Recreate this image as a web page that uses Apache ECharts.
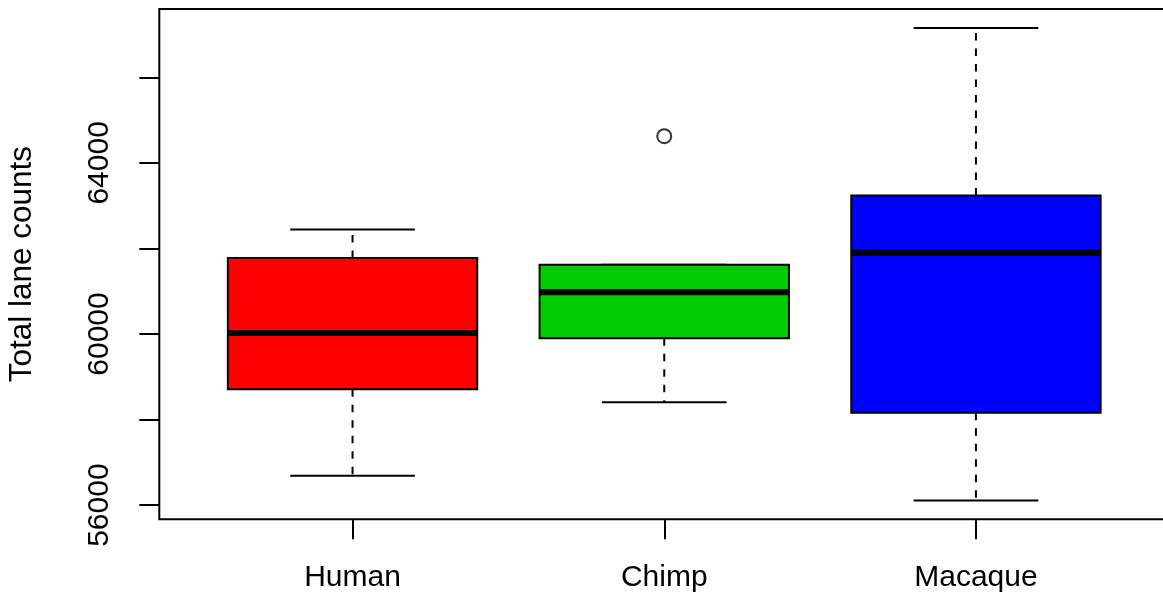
<!DOCTYPE html>
<html>
<head>
<meta charset="utf-8">
<title>Total lane counts</title>
<script src="https://cdn.jsdelivr.net/npm/echarts@6/dist/echarts.min.js"></script>
<style>
  html, body { margin: 0; padding: 0; background: #ffffff; }
  #chart { width: 1163px; height: 596px; }
</style>
</head>
<body>
<div id="chart"></div>
<script>
// Groups and five-number summaries of total lane counts
const categories = ['Human', 'Chimp', 'Macaque'];
const lowerWhisker = [56684, 58405, 56110];
const lowerQuartile = [58709, 59900, 58156];
const medians = [60023, 60974, 61901];
const upperQuartile = [61775, 61620, 63239];
const upperWhisker = [62445, 61620, 67155];
// [group index (1-based), value]
const outliers = [[2, 64624]];
const boxColors = ['#ff0000', '#00cd00', '#0000ff'];

const yTicks = [56000, 58000, 60000, 62000, 64000, 66000];
const yLabels = [56000, 60000, 64000];
const xTicks = [1, 2, 3];

// Axis range: data range padded by 4% each side
const allValues = lowerWhisker.concat(upperWhisker, outliers.map(o => o[1]));
const dMin = Math.min.apply(null, allValues);
const dMax = Math.max.apply(null, allValues);
const pad = (dMax - dMin) * 0.04;

const boxData = categories.map((c, i) => [
  i + 1, lowerWhisker[i], lowerQuartile[i], medians[i], upperQuartile[i], upperWhisker[i]
]);

const FONT = "'Liberation Sans', Arial, Helvetica, sans-serif";

function renderBox(params, api) {
  const x = api.value(0);
  const idx = params.dataIndex;
  const halfBox = api.size([0.4, 0])[0];
  const halfCap = api.size([0.2, 0])[0];
  const cx = api.coord([x, 0])[0];
  const yLow = api.coord([x, api.value(1)])[1];
  const yQ1 = api.coord([x, api.value(2)])[1];
  const yMed = api.coord([x, api.value(3)])[1];
  const yQ3 = api.coord([x, api.value(4)])[1];
  const yHigh = api.coord([x, api.value(5)])[1];
  const dash = { stroke: '#000', lineWidth: 2, lineDash: [7.5, 8] };
  const solid = { stroke: '#000', lineWidth: 2 };
  return {
    type: 'group',
    children: [
      { type: 'line', shape: { x1: cx, y1: yQ3, x2: cx, y2: yHigh }, style: dash },
      { type: 'line', shape: { x1: cx, y1: yQ1, x2: cx, y2: yLow }, style: dash },
      { type: 'line', shape: { x1: cx - halfCap, y1: yHigh, x2: cx + halfCap, y2: yHigh }, style: solid },
      { type: 'line', shape: { x1: cx - halfCap, y1: yLow, x2: cx + halfCap, y2: yLow }, style: solid },
      {
        type: 'rect',
        shape: { x: cx - halfBox, y: yQ3, width: halfBox * 2, height: yQ1 - yQ3 },
        style: { fill: boxColors[idx], stroke: '#000', lineWidth: 2 }
      },
      {
        type: 'line',
        shape: { x1: cx - halfBox, y1: yMed, x2: cx + halfBox, y2: yMed },
        style: { stroke: '#000', lineWidth: 6 }
      }
    ]
  };
}

const chart = echarts.init(document.getElementById('chart'), null, { renderer: 'canvas' });
chart.setOption({
  backgroundColor: '#ffffff',
  animation: false,
  grid: {
    left: 159.3, top: 9, width: 1009.9, bottom: 76.7,
    outerBoundsMode: 'none',
    containLabel: false,
    show: true, borderColor: '#000', borderWidth: 2, backgroundColor: 'transparent'
  },
  xAxis: {
    type: 'value',
    min: 0.38, max: 3.62,
    axisLine: { show: false },
    splitLine: { show: false },
    axisTick: { show: true, length: 20, lineStyle: { color: '#000', width: 2 }, customValues: xTicks },
    axisLabel: {
      customValues: xTicks,
      margin: 43,
      color: '#000', fontFamily: FONT, fontSize: 30,
      formatter: v => categories[Math.round(v) - 1] || ''
    }
  },
  yAxis: {
    type: 'value',
    min: dMin - pad, max: dMax + pad,
    name: 'Total lane counts',
    nameLocation: 'middle',
    nameRotate: 90,
    nameGap: 121,
    nameTextStyle: { color: '#000', fontFamily: FONT, fontSize: 31.5 },
    axisLine: { show: false },
    splitLine: { show: false },
    axisTick: { show: true, length: 20, lineStyle: { color: '#000', width: 2 }, customValues: yTicks },
    axisLabel: {
      customValues: yLabels,
      rotate: 90,
      margin: 45,
      color: '#000', fontFamily: FONT, fontSize: 30,
      formatter: v => String(v)
    }
  },
  series: [
    {
      type: 'custom',
      renderItem: renderBox,
      encode: { x: 0, y: [1, 2, 3, 4, 5] },
      data: boxData,
      z: 2
    },
    {
      type: 'scatter',
      data: outliers,
      symbol: 'circle',
      symbolSize: 14,
      itemStyle: { color: '#fff', borderColor: '#000', borderWidth: 2 },
      z: 3
    }
  ]
});
</script>
</body>
</html>
